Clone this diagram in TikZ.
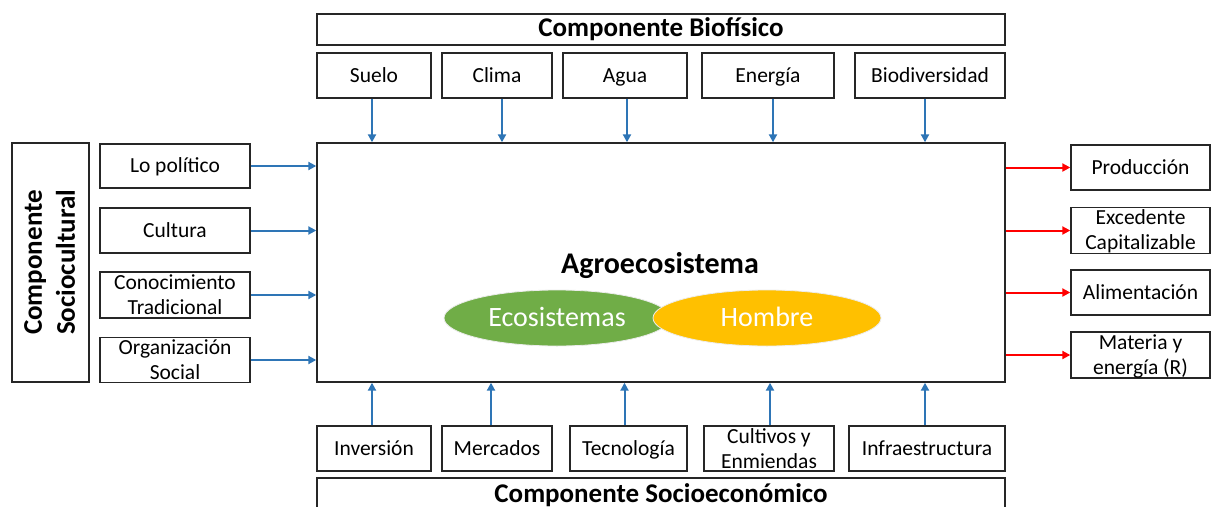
\documentclass[tikz,border=0pt]{standalone}
\usepackage{fontspec}
\setmainfont{Carlito}
\usetikzlibrary{arrows.meta,shapes.geometric}
\definecolor{arrblue}{HTML}{2E75B6}
\definecolor{arrred}{HTML}{FF0000}
\definecolor{ecogreen}{HTML}{70AD47}
\definecolor{homyellow}{HTML}{FFC000}
\newcommand\bstr{\rule[-3pt]{0pt}{20pt}}
\newcommand\tstr{\rule[-2pt]{0pt}{19.4pt}}
\newcommand\estr{\rule[-2pt]{0pt}{20pt}}
\tikzset{
  box/.style={draw=black!85, line width=1.4pt, fill=white, inner sep=0pt, align=center,
    minimum height=45pt, font=\fontsize{21.5}{25}\selectfont},
  title/.style={box, font=\bfseries\fontsize{27}{33}\selectfont},
  barrow/.style={draw=arrblue, line width=2pt, -{Triangle[length=8pt,width=8pt]}},
  rarrow/.style={draw=arrred, line width=2pt, -{Triangle[length=8pt,width=8pt]}},
  blob/.style={ellipse, inner sep=0pt, text=white, draw=white!85!gray, line width=0.8pt,
    font=\fontsize{28}{32}\selectfont}
}
\begin{document}
\begin{tikzpicture}[x=1pt,y=-1pt]
\useasboundingbox (0,0) rectangle (1212,506);
\fill[white] (0,0) rectangle (1212,506);

% top component
\node[title, minimum width=688pt, minimum height=31pt] (biot) at (661,29.5) {\tstr Componente Biofísico};
\node[box, minimum width=114pt] (suelo) at (374,75.5) {\bstr Suelo};
\node[box, minimum width=110pt] (clima) at (497,75.5) {\bstr Clima};
\node[box, minimum width=124pt] (agua) at (625,75.5) {\bstr Agua};
\node[box, minimum width=132pt] (energia) at (768,75.5) {\bstr Energía};
\node[box, minimum width=150pt] (biod) at (930,75.5) {\bstr Biodiversidad};

% main box
\node[box, minimum width=688pt, minimum height=239pt] (main) at (661,262.5) {};
\node[anchor=base, inner sep=0pt, font=\bfseries\fontsize{30}{34}\selectfont] (agro) at (660,273) {Agroecosistema};
\node[blob, fill=ecogreen, minimum width=226pt, minimum height=56pt] (eco) at (557,318) {\estr Ecosistemas};
\node[blob, fill=homyellow, minimum width=228pt, minimum height=56pt] (hom) at (767,318) {\estr Hombre};

% left component
\node[box, minimum width=77pt, minimum height=239pt] (soct) at (50.5,262.5) {};
\node[rotate=90, align=center, inner sep=0pt, font=\bfseries\fontsize{27}{33}\selectfont] (soctxt) at (soct.center) {\tstr Componente\\\tstr Sociocultural};
\node[box, minimum width=150pt, minimum height=44pt] (pol) at (175,166) {\bstr Lo político};
\node[box, minimum width=150pt] (cult) at (175,230.5) {\bstr Cultura};
\node[box, minimum width=150pt, minimum height=46pt] (cono) at (175,295) {\bstr Conocimiento\\\bstr Tradicional};
\node[box, minimum width=150pt, minimum height=44pt] (org) at (175,360) {\bstr Organización\\\bstr Social};

% right outputs
\node[box, minimum width=139pt] (prod) at (1140.5,167.5) {\bstr Producción};
\node[box, minimum width=139pt] (exc) at (1140.5,230.5) {\bstr Excedente\\\bstr Capitalizable};
\node[box, minimum width=139pt] (alim) at (1140.5,292.5) {\bstr Alimentación};
\node[box, minimum width=139pt, minimum height=46pt] (mat) at (1140.5,355) {\bstr Materia y\\\bstr energía (R)};

% bottom component
\node[box, minimum width=114pt] (inv) at (374,448.5) {\bstr Inversión};
\node[box, minimum width=110pt] (merc) at (497,448.5) {\bstr Mercados};
\node[box, minimum width=117pt] (tec) at (628.5,448.5) {\bstr Tecnología};
\node[box, minimum width=130pt] (cult2) at (769,448.5) {\bstr Cultivos y\\\bstr Enmiendas};
\node[box, minimum width=156pt] (infra) at (927,448.5) {\bstr Infraestructura};
\node[title, minimum width=688pt, minimum height=34pt] (soce) at (661,495) {\tstr Componente Socioeconómico};

% arrows top
\foreach \n/\dx in {suelo/-2,clima/5,agua/2,energia/5,biod/-5}
  \draw[barrow] ([xshift=\dx pt]\n.south) -- ([xshift=\dx pt]\n.south |- main.north);
% arrows bottom
\foreach \n/\dx in {inv/-2,merc/-6,tec/-4,cult2/1,infra/-2}
  \draw[barrow] ([xshift=\dx pt]\n.north) -- ([xshift=\dx pt]\n.north |- main.south);
% arrows left
\foreach \n in {pol,cult,cono,org}
  \draw[barrow] (\n.east) -- (\n.east -| main.west);
% arrows right
\foreach \n in {prod,exc,alim,mat}
  \draw[rarrow] (\n.west -| main.east) -- (\n.west);
\end{tikzpicture}
\end{document}
